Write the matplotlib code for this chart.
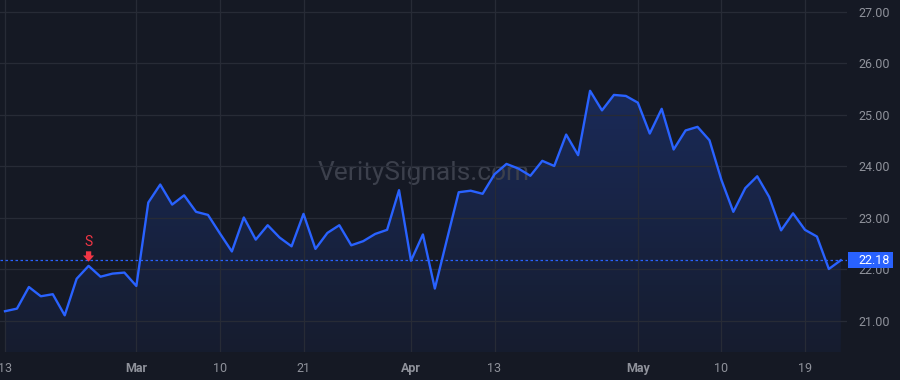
import numpy as np
import pandas as pd
import matplotlib
matplotlib.use("Agg")
import matplotlib.pyplot as plt
from matplotlib.patches import Polygon, Rectangle
from matplotlib.colors import LinearSegmentedColormap
from matplotlib.transforms import blended_transform_factory

plt.rcParams["font.family"] = ["Roboto", "DejaVu Sans"]

# ---------------- data ----------------
dates = pd.bdate_range("2023-02-13", "2023-05-24", freq="C",
                       holidays=["2023-02-20", "2023-04-07"])
prices = [
    21.19, 21.24, 21.66, 21.48, 21.52, 21.11, 21.82, 22.07, 21.86, 21.92, 21.94, 21.68,
    23.30, 23.65, 23.26, 23.44, 23.12, 23.06, 22.70, 22.35, 23.01, 22.58, 22.86, 22.62, 22.45, 23.08,
    22.40, 22.71, 22.86, 22.47, 22.55, 22.69, 22.77, 23.54, 22.17, 22.68, 21.63, 22.57, 23.50, 23.53,
    23.47, 23.85, 24.05, 23.96, 23.82, 24.11, 24.01, 24.62, 24.22, 25.47, 25.09, 25.39, 25.37, 25.24,
    24.64, 25.12, 24.33, 24.70, 24.77, 24.51, 23.74, 23.12, 23.58, 23.81, 23.41, 22.76, 23.09, 22.77,
    22.64, 22.01, 22.18,
]
tick_dates = ["2023-02-13", "2023-03-01", "2023-03-10", "2023-03-21", "2023-04-03",
              "2023-04-13", "2023-05-01", "2023-05-10", "2023-05-19"]
tick_labels = ["13", "Mar", "10", "21", "Apr", "13", "May", "10", "19"]
month_labels = {"Mar", "Apr", "May"}
y_ticks = [21, 22, 23, 24, 25, 26, 27]
signal_date = "2023-02-23"
signal_label = "S"
last_price = prices[-1]
watermark = "VeritySignals.com"

# ---------------- style ----------------
BG = "#151924"
GRID = "#272b36"
LINE = "#2962ff"
TEXT = "#8f929b"
RED = "#f23645"

n = min(len(dates), len(prices))
x = np.arange(n)
y = np.array(prices[:n])
date_index = {d.strftime("%Y-%m-%d"): i for i, d in enumerate(dates[:n])}

fig = plt.figure(figsize=(9, 3.8), dpi=100, facecolor=BG)
ax = fig.add_axes([0, (380 - 352) / 380, 847 / 900, 352 / 380])
ax.set_facecolor(BG)

xmin, xmax = -0.42, 70.52
ymin, ymax = 20.398, 27.233
ax.set_xlim(xmin, xmax)
ax.set_ylim(ymin, ymax)

# gradient fill under the line
grad = np.linspace(0, 1, 256).reshape(-1, 1)
cmap = LinearSegmentedColormap.from_list(
    "g", [(0.161, 0.384, 1.0, 0.05), (0.161, 0.384, 1.0, 0.24)])
top = y.max()
im = ax.imshow(grad, aspect="auto", cmap=cmap, origin="lower",
               extent=[x[0], x[-1], ymin, top], zorder=1)
poly = Polygon(np.column_stack([np.r_[x[0], x, x[-1]], np.r_[ymin, y, ymin]]),
               closed=True, transform=ax.transData, facecolor="none", edgecolor="none")
ax.add_patch(poly)
im.set_clip_path(poly)

ax.plot(x, y, color=LINE, lw=1.7, zorder=3)

# last price dashed line
ax.axhline(last_price, color=LINE, lw=0.9, ls=(0, (2, 2)), zorder=2)

# grid / ticks
tick_pos = [date_index[d] for d in tick_dates]
ax.set_xticks(tick_pos)
ax.set_xticklabels(tick_labels)
for lab in ax.get_xticklabels():
    if lab.get_text() in month_labels:
        lab.set_fontweight("bold")
ax.set_yticks(y_ticks)
ax.set_yticklabels([f"{v:.2f}" for v in y_ticks])
ax.yaxis.tick_right()
ax.grid(True, color=GRID, lw=0.9, zorder=0)
ax.tick_params(axis="x", length=0, pad=7, labelsize=9, labelcolor=TEXT)
ax.tick_params(axis="y", length=0, pad=8, labelsize=9, labelcolor=TEXT)
for lab in ax.get_yticklabels():
    lab.set_horizontalalignment("left")
for s in ax.spines.values():
    s.set_visible(False)

# signal marker: red arrow pointing down onto the point, "S" above
si = date_index[signal_date]
ax.annotate("", xy=(si, y[si]), xytext=(0, 10.5), textcoords="offset points",
            xycoords="data",
            arrowprops=dict(arrowstyle="simple,head_length=0.45,head_width=0.8,tail_width=0.38",
                            color=RED, shrinkA=0, shrinkB=3, lw=0))
ax.annotate(signal_label, xy=(si, y[si]), xytext=(0, 12), textcoords="offset points",
            color=RED, fontsize=10, ha="center", va="bottom", zorder=5)

# watermark
ax.text(0.5, 0.508, watermark, transform=ax.transAxes, color="#3c404c",
        fontsize=19, ha="center", va="center", zorder=1)

# last price label on the right axis
trans = blended_transform_factory(fig.transFigure, ax.transData)
box_h = 16 / 51.5
fig.add_artist(Rectangle((848 / 900, last_price - box_h / 2), 45 / 900, box_h,
                         transform=trans, facecolor=LINE, edgecolor="none", zorder=6))
fig.text(858 / 900, 0, f"{last_price:.2f}", transform=trans, color="white",
         fontsize=9, ha="left", va="center", zorder=7).set_y(last_price)

fig.savefig("out.png", dpi=100, facecolor=BG)
